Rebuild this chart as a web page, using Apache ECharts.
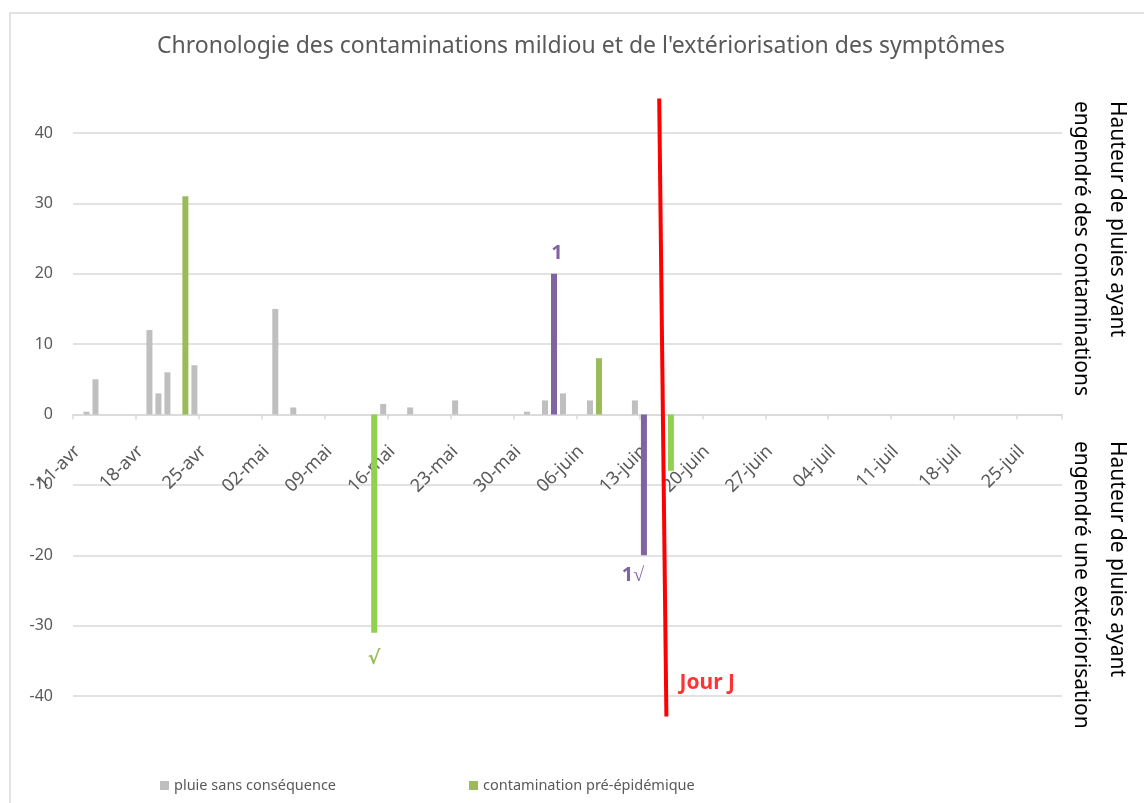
<!DOCTYPE html>
<html>
<head>
<meta charset="utf-8">
<script src="https://cdn.jsdelivr.net/npm/echarts@6/dist/echarts.min.js"></script>
<style>html,body{margin:0;padding:0;background:#fff;}#chart{width:1144px;height:803px;}</style>
</head>
<body>
<div id="chart"></div>
<script>
// ---- Data ----
const titleText = "Chronologie des contaminations mildiou et de l'extériorisation des symptômes";
const startDate = [2021, 3, 11];   // 11-avr
const nDays = 110;                  // 11-avr .. 29-juil
const moisFr = ['janv','févr','mars','avr','mai','juin','juil','août','sept','oct','nov','déc'];
const yTicks = [-40, -30, -20, -10, 0, 10, 20, 30, 40];

// daily rainfall (mm) by date
const pluieSansConsequence = [
  ['12-avr', 0.4], ['13-avr', 5], ['19-avr', 12], ['20-avr', 3], ['21-avr', 6],
  ['24-avr', 7], ['03-mai', 15], ['05-mai', 1], ['15-mai', 1.5], ['18-mai', 1],
  ['23-mai', 2], ['31-mai', 0.4], ['02-juin', 2], ['04-juin', 3], ['07-juin', 2],
  ['12-juin', 2]
];
const contaminationPreEpidemique = [['23-avr', 31], ['08-juin', 8]];
const contaminationEpidemique = [['03-juin', 20]];
const exteriorisationPreEpidemique = [['14-mai', -31], ['16-juin', -8]];
const exteriorisationEpidemique = [['13-juin', -20]];

// labels placed on individual bars
const barLabels = [['03-juin', '1'], ['13-juin', '1\u221A'], ['14-mai', '\u221A']];

// "Jour J" line (x in days since 11-avr, y in mm)
const jourJLine = [[65.2, 44.9], [66.0, -42.9]];
const jourJLabel = [[67.4, -38.1]];

// ---- Build categories ----
const categories = [];
for (let i = 0; i < nDays; i++) {
  const d = new Date(startDate[0], startDate[1], startDate[2] + i);
  categories.push(String(d.getDate()).padStart(2, '0') + '-' + moisFr[d.getMonth()]);
}
const labelMap = Object.fromEntries(barLabels);
function toSeries(pairs, color, extra) {
  const m = Object.fromEntries(pairs);
  return categories.map(c => {
    if (m[c] === undefined) return '-';
    if (labelMap[c] !== undefined) {
      return { value: m[c], label: Object.assign({ show: true, formatter: labelMap[c], color: color }, extra || {}) };
    }
    return m[c];
  });
}

const grey = '#BFBFBF', green = '#9BBB59', greenBright = '#92D050', purple = '#8064A2';
const txt = '#595959', grid = '#D9D9D9';
const font = 'Noto Sans';

const labelBase = { show: false, position: 'outside', fontFamily: font, fontSize: 20, fontWeight: 'bold', distance: 10 };

// plot geometry
const gridTop = 133, gridBottom = 107, plotH = 803 - gridTop - gridBottom;
const zeroOffset = -plotH * (0 - yTicks[0]) / (yTicks[yTicks.length - 1] - yTicks[0]);

const chart = echarts.init(document.getElementById('chart'));
chart.setOption({
  animation: false,
  backgroundColor: '#fff',
  title: {
    text: titleText, left: 152, top: 30,
    textStyle: { fontFamily: font, fontSize: 23, fontWeight: 'normal', color: txt }
  },
  legend: {
    data: ['pluie sans conséquence', 'contamination pré-épidémique'],
    left: 155, top: 773, itemWidth: 9, itemHeight: 9, itemGap: 133, icon: 'rect',
    textStyle: { fontFamily: font, fontSize: 14.5, color: txt }
  },
  grid: { left: 73, right: 82, top: gridTop, bottom: gridBottom, containLabel: false },
  xAxis: [{
    type: 'category', data: categories, boundaryGap: true, position: 'bottom', offset: zeroOffset,
    axisLine: { onZero: false, lineStyle: { color: grid, width: 1.5 } },
    axisTick: { show: true, interval: 6, length: 5, lineStyle: { color: grid, width: 1.5 } },
    axisLabel: { interval: 6, rotate: 45, margin: 34, color: txt, fontFamily: font, fontSize: 18 },
    splitLine: { show: false }
  }, {
    type: 'value', min: 0, max: nDays, show: false, position: 'top',
    axisLine: { onZero: false }
  }],
  yAxis: {
    type: 'value', min: yTicks[0], max: yTicks[yTicks.length - 1], interval: 10,
    axisLine: { show: false, onZero: false }, axisTick: { show: false },
    axisLabel: { margin: 20, color: txt, fontFamily: font, fontSize: 16 },
    splitLine: { lineStyle: { color: grid, width: 1.5 } }
  },
  series: [
    { name: 'pluie sans conséquence', type: 'bar', stack: 'all', barWidth: 6, itemStyle: { color: grey },
      data: toSeries(pluieSansConsequence, grey) },
    { name: 'contamination pré-épidémique', type: 'bar', stack: 'all', itemStyle: { color: green },
      label: labelBase, data: toSeries(contaminationPreEpidemique, green) },
    { name: 'contamination épidémique', type: 'bar', stack: 'all', itemStyle: { color: purple },
      label: Object.assign({}, labelBase, { distance: 10 }), data: toSeries(contaminationEpidemique, purple, { offset: [3, 0] }) },
    { name: 'extériorisation pré-épidémique', type: 'bar', stack: 'all', itemStyle: { color: greenBright },
      label: Object.assign({}, labelBase, { distance: 17, fontFamily: 'DejaVu Sans', fontSize: 19 }),
      data: toSeries(exteriorisationPreEpidemique, green) },
    { name: 'extériorisation épidémique', type: 'bar', stack: 'all', itemStyle: { color: purple },
      label: Object.assign({}, labelBase, { distance: 10 }), data: toSeries(exteriorisationEpidemique, purple, { offset: [-11, 0] }) },
    { name: 'Jour J', type: 'line', xAxisIndex: 1, data: jourJLine, clip: false, symbol: 'none',
      lineStyle: { color: '#FF0000', width: 4 }, z: 10 },
    { name: 'Jour J label', type: 'scatter', xAxisIndex: 1, data: jourJLabel, symbolSize: 1, clip: false,
      itemStyle: { color: 'rgba(0,0,0,0)' },
      label: { show: true, position: 'right', distance: 0, formatter: 'Jour J', color: '#FF0000',
        fontFamily: font, fontSize: 21, fontWeight: 'bold' } }
  ],
  graphic: [
    { type: 'rect', shape: { x: 10, y: 13, width: 1300, height: 1000 }, silent: true,
      style: { fill: 'none', stroke: grid, lineWidth: 1.5 } },
    { type: 'text', x: 1099, y: 101, rotation: -Math.PI / 2, silent: true,
      style: { text: 'Hauteur de pluies ayant\nengendré des contaminations', fill: '#000',
        font: '21px "Noto Sans"', align: 'left', verticalAlign: 'middle', lineHeight: 36 } },
    { type: 'text', x: 1099, y: 441, rotation: -Math.PI / 2, silent: true,
      style: { text: 'Hauteur de pluies ayant\nengendré une extériorisation', fill: '#000',
        font: '21px "Noto Sans"', align: 'left', verticalAlign: 'middle', lineHeight: 36 } }
  ]
});
</script>
</body>
</html>
